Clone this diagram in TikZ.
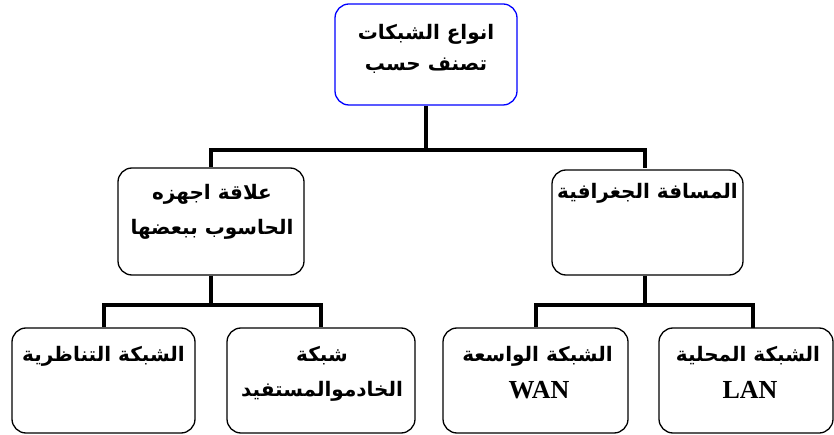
\documentclass[tikz,border=0pt]{standalone}
\usepackage{fontspec}
\TeXXeTstate=1
\newfontfamily\arabicfont[Script=Arabic]{DejaVu Sans}
\newfontfamily\latinserif{Liberation Serif}
\begin{document}
\begin{tikzpicture}[x=1pt,y=-1pt,
  box/.style={draw=black,line width=1.3pt,rounded corners=14pt,inner sep=0pt},
  topbox/.style={box,draw=blue},
  conn/.style={draw=black,line width=4pt},
  lbl/.style={align=center,inner sep=0pt,font=\arabicfont\bfseries\fontsize{20}{31}\selectfont},
  lat/.style={align=center,inner sep=0pt,font=\latinserif\bfseries\fontsize{26}{30}\selectfont}]
\useasboundingbox (0,0) rectangle (834,435);
% boxes
\node[topbox,minimum width=182pt,minimum height=101pt] (top) at (426,54.5) {};
\node[box,minimum width=186pt,minimum height=107pt] (ml) at (211,221.5) {};
\node[box,minimum width=191pt,minimum height=105pt] (mr) at (647.5,222.5) {};
\node[box,minimum width=183pt,minimum height=105pt] (b1) at (103.5,380.5) {};
\node[box,minimum width=188pt,minimum height=105pt] (b2) at (321,380.5) {};
\node[box,minimum width=185pt,minimum height=105pt] (b3) at (535.5,380.5) {};
\node[box,minimum width=174pt,minimum height=105pt] (b4) at (746,380.5) {};
% texts
\node[lbl] (t1) at (426,34) {\beginR انواع الشبكات\endR};
\node[lbl] (t2) at (426,66) {\beginR تصنف حسب\endR};
\node[lbl] (t3) at (212,194) {\beginR علاقة اجهزه\endR};
\node[lbl] (t4) at (212,229) {\beginR الحاسوب ببعضها\endR};
\node[lbl] (t5) at (647.5,193) {\beginR المسافة الجغرافية\endR};
\node[lbl] (t6) at (103.5,356) {\beginR الشبكة التناظرية\endR};
\node[lbl] (t7) at (322,356) {\beginR شبكة\endR};
\node[lbl] (t8) at (322,391) {\beginR الخادموالمستفيد\endR};
\node[lbl] (t9) at (537.5,356) {\beginR الشبكة الواسعة\endR};
\node[lat] (t10) at (539,390) {WAN};
\node[lbl] (t11) at (748,356) {\beginR الشبكة المحلية\endR};
\node[lat] (t12) at (750,390) {LAN};
% connectors
\coordinate (bus1) at (426,150);
\coordinate (busl) at (211,305);
\coordinate (busr) at (645,305);
\draw[conn] (top.south) -- (bus1);
\draw[conn] (bus1) -| (ml.north);
\draw[conn] (bus1) -| (645,168);
\draw[conn] (ml.south) -- (busl);
\draw[conn] (busl) -| (b1.north);
\draw[conn] (busl) -| (b2.north);
\draw[conn] (mr.south -| busr) -- (busr);
\draw[conn] (busr) -| (b3.north);
\draw[conn] (busr) -| (753,328);
\end{tikzpicture}
\end{document}
